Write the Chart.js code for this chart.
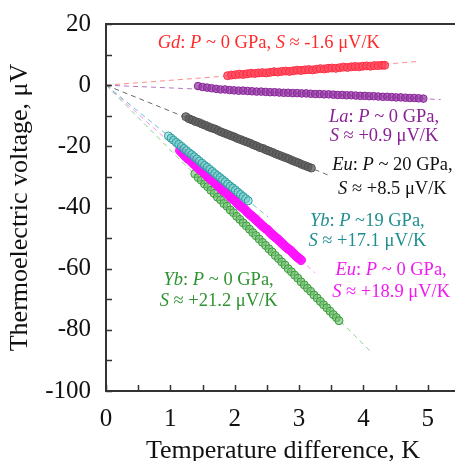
<!DOCTYPE html>
<html>
<head>
<meta charset="utf-8">
<script src="https://cdn.jsdelivr.net/npm/chart.js@4.4.1/dist/chart.umd.min.js"></script>
<style>
  html, body { margin: 0; padding: 0; background: #fff; }
  #wrap { width: 455px; height: 461px; overflow: hidden; position: relative; }
  #c { position: absolute; left: 0; top: 0; }
</style>
</head>
<body>
<div id="wrap"><canvas id="c" width="475" height="461"></canvas></div>
<script>
// measured points: [temperature difference K, thermoelectric voltage uV]
const gdPts = [[1.89,3.1],[1.95,3.3],[2.01,3.4],[2.07,3.6],[2.13,3.5],[2.19,3.7],[2.25,3.9],[2.31,3.8],[2.37,4.0],[2.43,4.1],[2.49,4.0],[2.55,4.2],[2.61,4.4],[2.67,4.3],[2.73,4.5],[2.79,4.6],[2.85,4.5],[2.91,4.7],[2.97,4.9],[3.03,4.8],[3.09,5.0],[3.15,5.1],[3.21,5.0],[3.27,5.2],[3.33,5.4],[3.39,5.3],[3.45,5.5],[3.51,5.6],[3.57,5.5],[3.63,5.7],[3.69,5.9],[3.75,5.8],[3.81,6.0],[3.87,6.1],[3.93,6.0],[3.99,6.2],[4.05,6.3],[4.11,6.2],[4.17,6.4],[4.23,6.4],[4.29,6.5],[4.33,6.5]];
const laPts = [[1.43,-0.3],[1.50,-0.6],[1.57,-0.8],[1.64,-1.0],[1.71,-1.2],[1.78,-1.4],[1.85,-1.4],[1.92,-1.6],[1.99,-1.7],[2.06,-1.8],[2.13,-1.8],[2.20,-1.9],[2.27,-2.0],[2.34,-2.1],[2.41,-2.1],[2.48,-2.2],[2.55,-2.3],[2.62,-2.3],[2.69,-2.4],[2.76,-2.5],[2.83,-2.5],[2.90,-2.6],[2.97,-2.6],[3.04,-2.7],[3.11,-2.7],[3.18,-2.8],[3.25,-2.9],[3.32,-2.9],[3.39,-3.0],[3.46,-3.0],[3.53,-3.1],[3.60,-3.2],[3.67,-3.2],[3.74,-3.3],[3.81,-3.3],[3.88,-3.4],[3.95,-3.5],[4.02,-3.5],[4.09,-3.6],[4.16,-3.6],[4.23,-3.7],[4.30,-3.8],[4.37,-3.8],[4.44,-3.9],[4.51,-4.0],[4.58,-4.0],[4.65,-4.1],[4.72,-4.2],[4.79,-4.2],[4.86,-4.3],[4.93,-4.4]];
const eu20Pts = [[1.24,-10.3],[1.29,-11.0],[1.34,-11.4],[1.39,-11.9],[1.44,-12.2],[1.49,-12.7],[1.54,-13.1],[1.59,-13.6],[1.64,-14.0],[1.69,-14.3],[1.74,-14.8],[1.79,-15.3],[1.84,-15.7],[1.89,-16.1],[1.94,-16.5],[1.99,-16.9],[2.04,-17.4],[2.09,-17.8],[2.14,-18.2],[2.19,-18.6],[2.24,-19.0],[2.29,-19.5],[2.34,-19.9],[2.39,-20.4],[2.44,-20.7],[2.49,-21.2],[2.54,-21.6],[2.59,-22.0],[2.64,-22.5],[2.69,-22.9],[2.74,-23.3],[2.79,-23.7],[2.84,-24.1],[2.89,-24.6],[2.94,-25.0],[2.99,-25.4],[3.04,-25.9],[3.09,-26.3],[3.14,-26.7],[3.19,-27.1]];
const yb19Pts = [[0.97,-16.6],[1.01,-17.3],[1.05,-18.0],[1.09,-18.7],[1.13,-19.3],[1.17,-20.0],[1.21,-20.7],[1.25,-21.4],[1.29,-22.1],[1.33,-22.7],[1.37,-23.4],[1.41,-24.1],[1.45,-24.8],[1.49,-25.5],[1.53,-26.2],[1.57,-26.8],[1.61,-27.5],[1.65,-28.2],[1.69,-28.9],[1.73,-29.6],[1.77,-30.2],[1.81,-30.9],[1.85,-31.6],[1.89,-32.3],[1.93,-33.0],[1.97,-33.6],[2.01,-34.3],[2.05,-35.0],[2.09,-35.7],[2.13,-36.4],[2.17,-37.1],[2.21,-37.8]];
const eu0Pts = [[1.15,-21.4],[1.19,-22.3],[1.23,-23.2],[1.27,-24.0],[1.31,-24.6],[1.35,-25.5],[1.39,-26.3],[1.43,-27.1],[1.47,-27.8],[1.51,-28.4],[1.55,-29.3],[1.59,-30.1],[1.63,-30.8],[1.67,-31.5],[1.71,-32.3],[1.75,-33.1],[1.79,-33.9],[1.83,-34.6],[1.87,-35.2],[1.91,-36.1],[1.95,-36.9],[1.99,-37.5],[2.03,-38.4],[2.07,-39.2],[2.11,-39.9],[2.15,-40.5],[2.19,-41.4],[2.23,-42.2],[2.27,-42.9],[2.31,-43.6],[2.35,-44.4],[2.39,-45.2],[2.43,-46.0],[2.47,-46.7],[2.51,-47.3],[2.55,-48.2],[2.59,-49.0],[2.63,-49.7],[2.67,-50.4],[2.71,-51.2],[2.75,-52.0],[2.79,-52.8],[2.83,-53.5],[2.87,-54.1],[2.91,-55.0],[2.95,-55.8],[2.99,-56.5],[3.03,-57.2]];
const yb0Pts = [[1.38,-29.0],[1.43,-30.2],[1.48,-31.1],[1.53,-32.3],[1.58,-33.2],[1.63,-34.4],[1.68,-35.4],[1.73,-36.6],[1.78,-37.5],[1.83,-38.7],[1.88,-39.6],[1.93,-40.8],[1.98,-41.7],[2.03,-42.9],[2.08,-43.9],[2.13,-45.0],[2.18,-46.0],[2.23,-47.1],[2.28,-48.2],[2.33,-49.2],[2.38,-50.3],[2.43,-51.4],[2.48,-52.4],[2.53,-53.5],[2.58,-54.5],[2.63,-55.7],[2.68,-56.7],[2.73,-57.8],[2.78,-58.8],[2.83,-60.0],[2.88,-61.0],[2.93,-62.1],[2.98,-63.1],[3.03,-64.3],[3.08,-65.3],[3.13,-66.4],[3.18,-67.4],[3.23,-68.6],[3.28,-69.6],[3.33,-70.7],[3.38,-71.8],[3.43,-72.8],[3.48,-73.9],[3.53,-75.0],[3.58,-76.0],[3.62,-77.0]];

// dashed linear fits through origin
const gdFit = [[0,0],[4.83,7.7]];
const laFit = [[0,0],[5.2,-4.7]];
const eu20Fit = [[0,0],[3.5,-29.8]];
const yb19Fit = [[0,0],[2.52,-43.1]];
const eu0Fit = [[0,0],[3.25,-61.4]];
const yb0Fit = [[0,0],[4.12,-87.3]];

const xMin = 0, xMax = 5.5, xStep = 0.5;
const yMin = -100, yMax = 20, yStep = 10;

const SERIF = '"Liberation Serif", "Times New Roman", serif';

function toXY(arr) {
  return arr.map(p => ({ x: p[0], y: p[1] }));
}

function pts(arr, edge, fill, r) {
  return {
    data: toXY(arr),
    showLine: false,
    pointRadius: r || 4,
    pointBorderWidth: 1,
    pointBorderColor: edge,
    pointBackgroundColor: fill,
  };
}

function fit(arr, color) {
  return {
    data: toXY(arr),
    showLine: true,
    pointRadius: 0,
    borderColor: color,
    borderWidth: 1,
    borderDash: [5, 4],
    fill: false,
  };
}

// text annotations, segments: [text, italic]
const notes = [
  { x: 2.53, y: 13.8, color: "#ff2a2a", lines: [[["Gd", 1], [": ", 0], ["P", 1], [" ~ 0 GPa, ", 0], ["S", 1], [" ≈ -1.6 μV/K", 0]]] },
  { x: 4.32, y: -10.4, dy: 19, color: "#8a1f96", lines: [[["La", 1], [": ", 0], ["P", 1], [" ~ 0 GPa,", 0]], [["S", 1], [" ≈ +0.9 μV/K", 0]]] },
  { x: 4.45, y: -26.1, dy: 24, color: "#111111", lines: [[["Eu", 1], [": ", 0], ["P", 1], [" ~ 20 GPa,", 0]], [["S", 1], [" ≈ +8.5 μV/K", 0]]] },
  { x: 4.06, y: -44.5, dy: 20, color: "#1f8f8f", lines: [[["Yb", 1], [": ", 0], ["P", 1], [" ~19 GPa,", 0]], [["S", 1], [" ≈ +17.1 μV/K", 0]]] },
  { x: 4.43, y: -60.4, dy: 22, color: "#f01af0", lines: [[["Eu", 1], [": ", 0], ["P", 1], [" ~ 0 GPa,", 0]], [["S", 1], [" ≈ +18.9 μV/K", 0]]] },
  { x: 1.75, y: -63.7, dy: 21, color: "#2e9330", lines: [[["Yb", 1], [": ", 0], ["P", 1], [" ~ 0 GPa,", 0]], [["S", 1], [" ≈ +21.2 μV/K", 0]]] },
];

const framePlugin = {
  id: "frame",
  afterDatasetsDraw(chart) {
    const { ctx, chartArea: a, scales } = chart;
    ctx.save();
    ctx.strokeStyle = "#333";
    ctx.lineWidth = 2;
    ctx.strokeRect(a.left, a.top, a.right - a.left, a.bottom - a.top);
    ctx.lineWidth = 1.5;
    ctx.beginPath();
    for (let v = yMin; v <= yMax + 1e-9; v += yStep) {
      const py = Math.round(scales.y.getPixelForValue(v)) + 0.5;
      ctx.moveTo(a.left, py);
      ctx.lineTo(a.left + 6, py);
    }
    for (let v = xMin; v <= xMax + 1e-9; v += xStep) {
      const px = Math.round(scales.x.getPixelForValue(v)) + 0.5;
      ctx.moveTo(px, a.bottom);
      ctx.lineTo(px, a.bottom - 6);
    }
    ctx.stroke();

    // annotations
    ctx.textBaseline = "middle";
    ctx.textAlign = "left";
    const size = 18.5;
    notes.forEach(n => {
      const cx = scales.x.getPixelForValue(n.x);
      const cy = scales.y.getPixelForValue(n.y);
      ctx.fillStyle = n.color;
      n.lines.forEach((segs, li) => {
        let w = 0;
        segs.forEach(s => {
          ctx.font = (s[1] ? "italic " : "") + size + "px " + SERIF;
          w += ctx.measureText(s[0]).width;
        });
        let x = cx - w / 2;
        const y = cy + li * (n.dy || 20);
        segs.forEach(s => {
          ctx.font = (s[1] ? "italic " : "") + size + "px " + SERIF;
          ctx.fillText(s[0], x, y);
          x += ctx.measureText(s[0]).width;
        });
      });
    });
    ctx.restore();
  },
};

new Chart(document.getElementById("c"), {
  type: "scatter",
  data: {
    datasets: [
      pts(yb19Pts, "#2a9d9d", "rgba(120,205,205,0.55)"),
      pts(eu20Pts, "#505050", "rgba(90,90,90,0.75)"),
      pts(gdPts, "#ff2a40", "rgba(255,70,90,0.75)"),
      pts(laPts, "#8a249a", "rgba(150,60,165,0.75)", 3.8),
      pts(eu0Pts, "#ff10ff", "rgba(255,20,255,0.95)", 4.5),
      pts(yb0Pts, "#359a35", "rgba(110,190,110,0.6)"),
      fit(gdFit, "#ff8a8a"),
      fit(laFit, "#b477c2"),
      fit(eu20Fit, "#6a6a6a"),
      fit(yb19Fit, "#6cc4c4"),
      fit(eu0Fit, "#ff88ff"),
      fit(yb0Fit, "#8ccf8c"),
    ],
  },
  options: {
    responsive: false,
    animation: false,
    layout: { padding: { top: 24, right: 15, left: 0, bottom: 0 } },
    plugins: { legend: { display: false }, tooltip: { enabled: false } },
    scales: {
      x: {
        type: "linear",
        min: xMin,
        max: xMax,
        afterFit(s) { s.height = 70; s.paddingLeft = 0; s.paddingRight = 0; },
        afterBuildTicks(s) {
          s.ticks = [];
          for (let v = xMin; v <= xMax + 1e-9; v += xStep) s.ticks.push({ value: v });
        },
        grid: { display: false, drawTicks: false },
        border: { display: false },
        ticks: {
          autoSkip: false,
          maxRotation: 0,
          padding: 13,
          color: "#111",
          font: { family: SERIF, size: 25 },
          callback: v => (Math.abs(v - Math.round(v)) < 1e-6 && v <= 5 ? String(Math.round(v)) : ""),
        },
        title: {
          display: true,
          text: "Temperature difference, K",
          color: "#111",
          font: { family: SERIF, size: 26, lineHeight: 0.78 },
          padding: { top: 6, bottom: 0 },
        },
      },
      y: {
        type: "linear",
        min: yMin,
        max: yMax,
        afterFit(s) { s.width = 106; s.paddingTop = 0; s.paddingBottom = 0; },
        afterBuildTicks(s) {
          s.ticks = [];
          for (let v = yMin; v <= yMax + 1e-9; v += yStep) s.ticks.push({ value: v });
        },
        grid: { display: false, drawTicks: false },
        border: { display: false },
        ticks: {
          autoSkip: false,
          padding: 15,
          color: "#111",
          font: { family: SERIF, size: 25 },
          callback: v => (Math.round(v) % 20 === 0 ? String(Math.round(v)) : ""),
        },
        title: {
          display: true,
          text: "Thermoelectric voltage, μV",
          color: "#111",
          font: { family: SERIF, size: 26 },
          padding: { top: 5, bottom: 0 },
        },
      },
    },
  },
  plugins: [framePlugin],
});
</script>
</body>
</html>
